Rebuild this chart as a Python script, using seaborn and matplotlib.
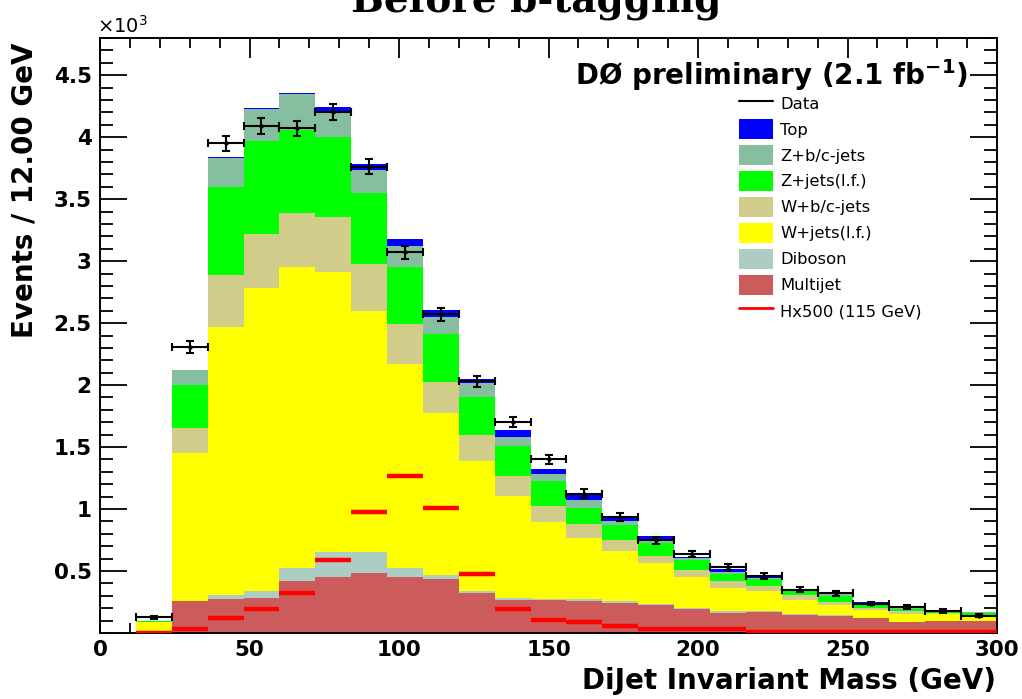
import numpy as np
import pandas as pd
import matplotlib
matplotlib.use("Agg")
import matplotlib.pyplot as plt
from matplotlib.lines import Line2D
from matplotlib.patches import Patch
from matplotlib.ticker import MultipleLocator
import seaborn as sns

# Binning of the dijet invariant mass (GeV)
bin_low = 12.0
bin_width = 12.0
n_bins = 24

# Events per bin, in units of 10^3 (bins 12-24, 24-36, ..., 288-300 GeV)
multijet = [0.010, 0.256, 0.277, 0.286, 0.417, 0.452, 0.487, 0.452, 0.433, 0.323,
            0.264, 0.265, 0.256, 0.242, 0.224, 0.194, 0.165, 0.170, 0.143, 0.138,
            0.121, 0.085, 0.097, 0.095]
diboson = [0.000, 0.002, 0.027, 0.053, 0.108, 0.202, 0.167, 0.073, 0.033, 0.016,
           0.019, 0.012, 0.016, 0.016, 0.013, 0.011, 0.010, 0.008, 0.008, 0.005,
           0.004, 0.004, 0.003, 0.002]
w_lf = [0.078, 1.198, 2.166, 2.446, 2.425, 2.260, 1.945, 1.649, 1.305, 1.047,
        0.823, 0.619, 0.498, 0.401, 0.328, 0.247, 0.188, 0.161, 0.118, 0.086,
        0.058, 0.067, 0.050, 0.038]
w_hf = [0.002, 0.199, 0.420, 0.435, 0.440, 0.443, 0.374, 0.315, 0.255, 0.214,
        0.161, 0.129, 0.107, 0.089, 0.056, 0.060, 0.054, 0.040, 0.035, 0.021,
        0.019, 0.019, 0.010, 0.010]
z_lf = [0.003, 0.345, 0.705, 0.750, 0.667, 0.646, 0.573, 0.461, 0.390, 0.300,
        0.243, 0.202, 0.132, 0.121, 0.105, 0.075, 0.062, 0.054, 0.035, 0.050,
        0.030, 0.020, 0.018, 0.015]
z_hf = [0.003, 0.120, 0.235, 0.255, 0.288, 0.202, 0.188, 0.170, 0.134, 0.113,
        0.072, 0.059, 0.062, 0.031, 0.036, 0.018, 0.013, 0.012, 0.016, 0.018,
        0.013, 0.010, 0.008, 0.007]
top = [0.000, 0.005, 0.008, 0.012, 0.009, 0.040, 0.049, 0.055, 0.054, 0.040,
       0.054, 0.035, 0.040, 0.028, 0.021, 0.010, 0.028, 0.007, 0.003, 0.008,
       0.005, 0.005, 0.003, 0.003]

data = [0.127, 2.31, 3.95, 4.09, 4.07, 4.20, 3.76, 3.07, 2.57, 2.03,
        1.70, 1.40, 1.125, 0.936, 0.748, 0.635, 0.533, 0.460, 0.350, 0.320,
        0.237, 0.210, 0.178, 0.140]
data_err = [0.011, 0.048, 0.063, 0.064, 0.064, 0.065, 0.061, 0.055, 0.051, 0.045,
            0.041, 0.037, 0.034, 0.031, 0.027, 0.025, 0.023, 0.021, 0.019, 0.018,
            0.015, 0.014, 0.013, 0.012]

# Higgs signal (115 GeV) scaled by 500
signal_x500 = [0.004, 0.030, 0.120, 0.197, 0.326, 0.587, 0.974, 1.270, 1.012, 0.479,
               0.197, 0.108, 0.085, 0.054, 0.035, 0.030, 0.030, 0.008, 0.008, 0.008,
               0.008, 0.008, 0.008, 0.008]

process_names = ["Top", "Z+b/c-jets", "Z+jets(l.f.)", "W+b/c-jets",
                 "W+jets(l.f.)", "Diboson", "Multijet"]
process_colors = ["#0000ff", "#85bf9f", "#00ff00", "#d1cc8a",
                  "#ffff00", "#adccc4", "#cc5c5c"]
process_values = [top, z_hf, z_lf, w_hf, w_lf, diboson, multijet]

x_ticks = [0, 50, 100, 150, 200, 250, 300]
y_ticks = [0.5, 1, 1.5, 2, 2.5, 3, 3.5, 4, 4.5]

edges = bin_low + bin_width * np.arange(n_bins + 1)
centers = 0.5 * (edges[:-1] + edges[1:])

frames = []
for name, vals in zip(process_names, process_values):
    frames.append(pd.DataFrame({"mass": centers, "events": vals, "process": name}))
df = pd.concat(frames, ignore_index=True)

sns.set_theme(style="ticks")
plt.rcParams["font.family"] = ["DejaVu Sans"]
plt.rcParams.update({"text.color": "black", "axes.labelcolor": "black",
                     "xtick.color": "black", "ytick.color": "black",
                     "axes.edgecolor": "black"})

fig = plt.figure(figsize=(10.22, 6.99), dpi=100)
W, H = 1022.0, 699.0
ax = fig.add_axes([100 / W, 1 - 633 / H, 897 / W, 595 / H])

# Stacked backgrounds: first hue level sits on top of the stack
sns.histplot(data=df, x="mass", weights="events", hue="process",
             hue_order=process_names, palette=process_colors,
             multiple="stack", bins=edges.tolist(), element="bars",
             linewidth=0, alpha=1, legend=False, ax=ax)

# Signal as per-bin horizontal segments
ax.hlines(signal_x500, edges[:-1], edges[1:], color="#ff0000", lw=3.2, zorder=4)

# Data with Poisson errors
ax.errorbar(centers, data, xerr=bin_width / 2, yerr=data_err, fmt="o", ms=2.2,
            color="black", ecolor="black", elinewidth=1.5, capsize=2.6,
            capthick=1.5, zorder=5)

ax.set_xlim(0, 300)
ax.set_ylim(0, 4.8)
ax.set_xlabel("")
ax.set_ylabel("")

ax.set_xticks(x_ticks)
ax.set_xticklabels([str(t) for t in x_ticks], fontsize=15.5, fontweight="bold",
                   color="black")
ax.set_yticks(y_ticks)
ax.set_yticklabels([f"{t:g}" for t in y_ticks], fontsize=15.5, fontweight="bold",
                   color="black")
ax.xaxis.set_minor_locator(MultipleLocator(10))
ax.yaxis.set_minor_locator(MultipleLocator(0.1))
ax.tick_params(which="both", direction="in", top=True, right=True,
               color="black", width=1.3)
ax.tick_params(axis="x", which="major", length=14.5, pad=5)
ax.tick_params(axis="x", which="minor", length=7.2)
ax.tick_params(axis="y", which="major", length=19.5, pad=6)
ax.tick_params(axis="y", which="minor", length=9.7)
for sp in ax.spines.values():
    sp.set_visible(True)
    sp.set_linewidth(1.4)
    sp.set_color("black")

fig.text(536 / W, 1 - 12 / H, "Before b-tagging", ha="center", va="baseline",
         fontsize=28, fontweight="bold", family=["DejaVu Serif"], color="black")
fig.text(97 / W, 1 - 33 / H, r"$\times10^{3}$", ha="left", va="baseline",
         fontsize=14, color="black")
fig.text(25 / W, 1 - 42 / H, "Events / 12.00 GeV", rotation=90, ha="center",
         va="top", fontsize=20, fontweight="bold", color="black")
fig.text(996 / W, 1 - 689 / H, "DiJet Invariant Mass (GeV)", ha="right",
         va="baseline", fontsize=20, fontweight="bold", color="black")
fig.text(968 / W, 1 - 85 / H, r"DØ preliminary (2.1 fb$^{\mathbf{-1}}$)",
         ha="right", va="baseline", fontsize=20, fontweight="bold", color="black")

handles = [Line2D([0], [0], color="black", lw=1.5)]
handles += [Patch(facecolor=c, edgecolor="none") for c in process_colors]
handles += [Line2D([0], [0], color="#ff0000", lw=2)]
labels = ["Data"] + process_names + ["Hx500 (115 GeV)"]
leg = fig.legend(handles, labels, loc="upper left",
                 bbox_to_anchor=(739 / W, 1 - 93 / H), frameon=False,
                 fontsize=11.8, handlelength=2.1, handleheight=1.55,
                 labelspacing=0.33, handletextpad=0.4, borderpad=0,
                 borderaxespad=0)
for t in leg.get_texts():
    t.set_color("black")

fig.savefig("out.png", dpi=100)
